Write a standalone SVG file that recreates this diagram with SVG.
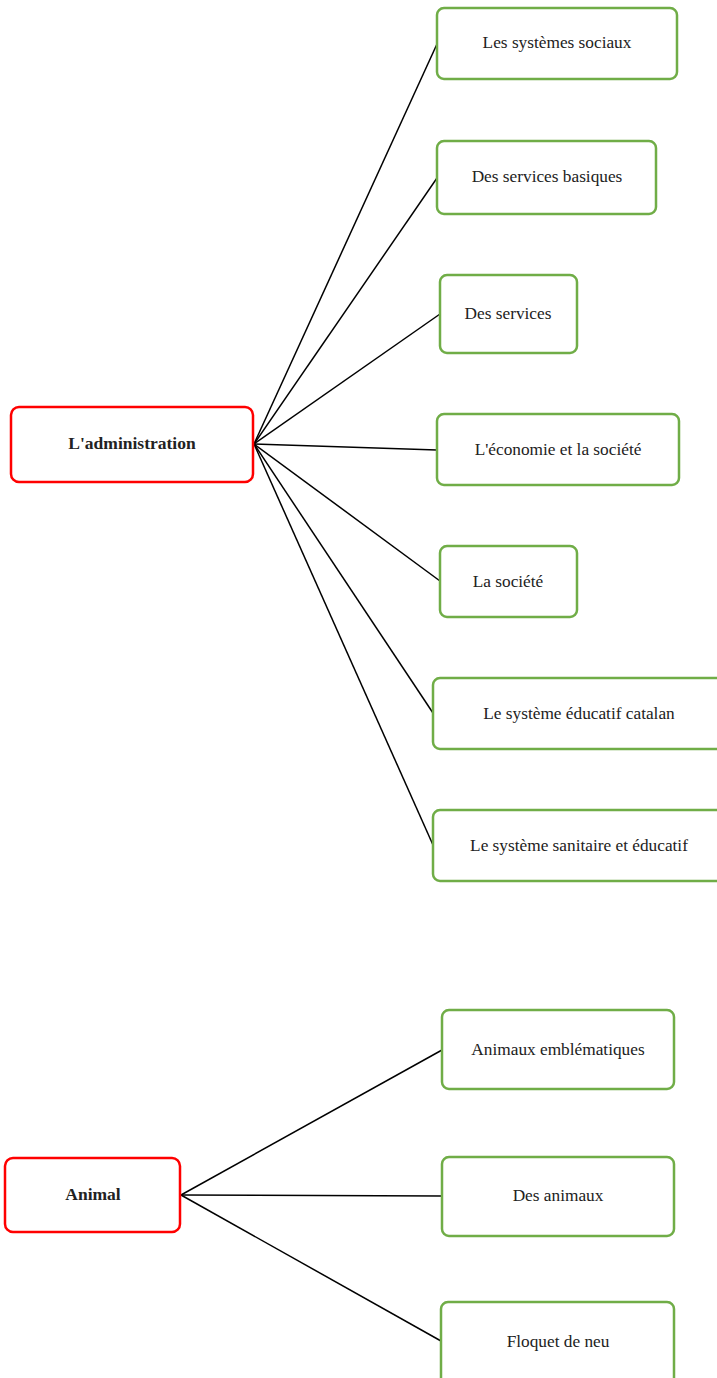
<svg xmlns="http://www.w3.org/2000/svg" width="717" height="1378" viewBox="0 0 717 1378">
<style>
.root rect{fill:#fff;stroke:#ff0000;stroke-width:2.5}
.leaf rect{fill:#fff;stroke:#70ad47;stroke-width:2.5}
text{font-family:"Liberation Serif",serif;font-size:17.3px;fill:#222;text-anchor:middle;dominant-baseline:central}
.root text{font-weight:bold;font-size:17.5px}
.edges line{stroke:#000;stroke-width:1.5}
</style>
<rect width="717" height="1378" fill="#fff"/>
<g class="edges">
<line x1="254" y1="444" x2="437" y2="44"/>
<line x1="254" y1="444" x2="437" y2="178"/>
<line x1="254" y1="444" x2="440" y2="314"/>
<line x1="254" y1="444" x2="437" y2="450"/>
<line x1="254" y1="444" x2="440" y2="581"/>
<line x1="254" y1="444" x2="433" y2="713"/>
<line x1="254" y1="444" x2="433" y2="845"/>
<line x1="181" y1="1195" x2="442" y2="1050"/>
<line x1="181" y1="1195" x2="442" y2="1196"/>
<line x1="181" y1="1195" x2="441" y2="1341"/>
</g>
<g id="admin" class="root"><rect x="11" y="407" width="242" height="75" rx="8"/><text x="132" y="443">L'administration</text></g>
<g id="n1" class="leaf"><rect x="437" y="8" width="240" height="71" rx="7"/><text x="557" y="42">Les systèmes sociaux</text></g>
<g id="n2" class="leaf"><rect x="437" y="141" width="219" height="73" rx="7"/><text x="547" y="176">Des services basiques</text></g>
<g id="n3" class="leaf"><rect x="440" y="275" width="137" height="78" rx="7"/><text x="508" y="313">Des services</text></g>
<g id="n4" class="leaf"><rect x="437" y="414" width="242" height="71" rx="7"/><text x="558" y="449">L'économie et la société</text></g>
<g id="n5" class="leaf"><rect x="440" y="546" width="137" height="71" rx="7"/><text x="508" y="581">La société</text></g>
<g id="n6" class="leaf"><rect x="433" y="678" width="290" height="71" rx="7"/><text x="579" y="713">Le système éducatif catalan</text></g>
<g id="n7" class="leaf"><rect x="433" y="810" width="290" height="71" rx="7"/><text x="579" y="845">Le système sanitaire et éducatif</text></g>
<g id="animal" class="root"><rect x="5" y="1158" width="175" height="74" rx="8"/><text x="93" y="1194">Animal</text></g>
<g id="n8" class="leaf"><rect x="442" y="1010" width="232" height="79" rx="7"/><text x="558" y="1049">Animaux emblématiques</text></g>
<g id="n9" class="leaf"><rect x="442" y="1157" width="232" height="79" rx="7"/><text x="558" y="1195">Des animaux</text></g>
<g id="n10" class="leaf"><rect x="441" y="1302" width="233" height="85" rx="7"/><text x="558" y="1341">Floquet de neu</text></g>
</svg>
